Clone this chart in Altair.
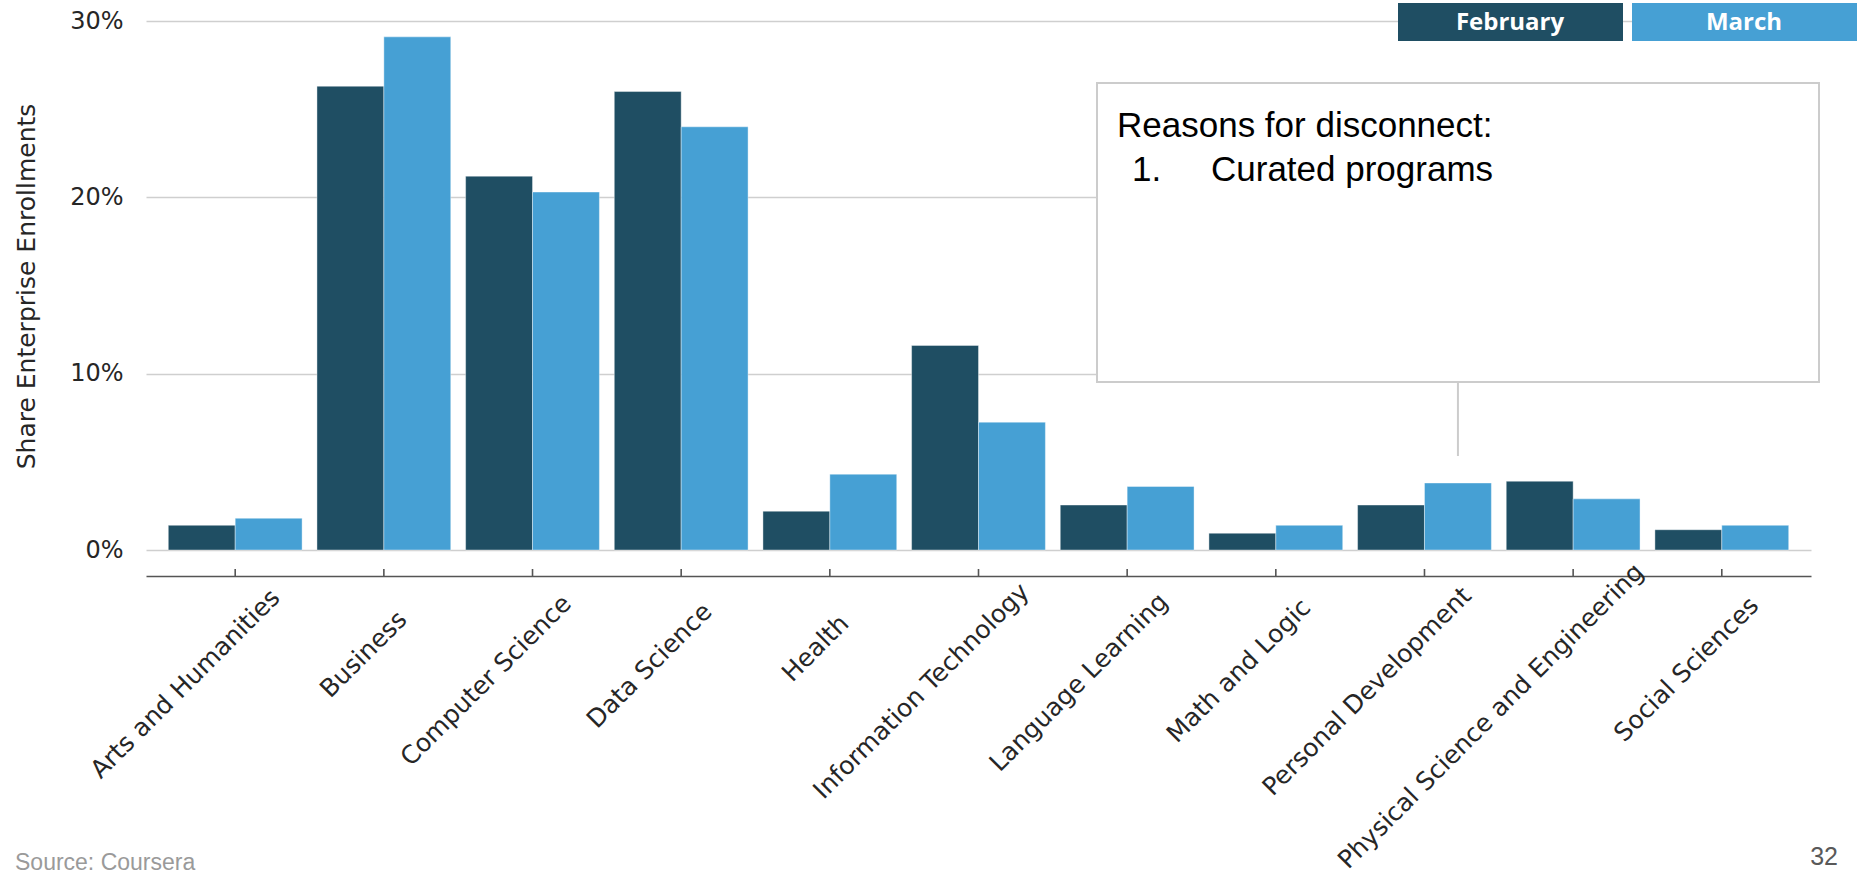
import altair as alt
import pandas as pd

# Share of enterprise enrollments by domain, February vs March (percent)
categories = [
    "Arts and Humanities",
    "Business",
    "Computer Science",
    "Data Science",
    "Health",
    "Information Technology",
    "Language Learning",
    "Math and Logic",
    "Personal Development",
    "Physical Science and Engineering",
    "Social Sciences",
]
february = [1.4, 26.3, 21.2, 26.0, 2.2, 11.6, 2.55, 0.95, 2.55, 3.9, 1.15]
march = [1.8, 29.1, 20.3, 24.0, 4.3, 7.25, 3.6, 1.4, 3.8, 2.9, 1.4]
months = ["February", "March"]
month_colors = ["#1f4e63", "#46a0d4"]

note_title = "Reasons for disconnect:"
note_item_num = "1."
note_item = "Curated programs"
source_text = "Source: Coursera"
page_number = "32"

rows = []
for cat, f, m in zip(categories, february, march):
    rows.append({"cat": cat, "month": months[0], "share": f / 100})
    rows.append({"cat": cat, "month": months[1], "share": m / 100})
bars_df = pd.DataFrame(rows)
cats_df = pd.DataFrame({"cat": categories})

W, H = 1665, 529

x_enc = alt.X(
    "cat:N",
    sort=categories,
    scale=alt.Scale(paddingInner=0.1, paddingOuter=0.15),
    axis=alt.Axis(
        title=None,
        labels=False,
        ticks=False,
        domain=True,
        domainColor="#555555",
        domainWidth=1.6,
        offset=26,
        grid=False,
    ),
)

bars = alt.Chart(bars_df).mark_bar(stroke="white", strokeWidth=0.4).encode(
    x=x_enc,
    xOffset=alt.XOffset("month:N", sort=months),
    y=alt.Y(
        "share:Q",
        scale=alt.Scale(domain=[0, 0.3], nice=False),
        axis=alt.Axis(
            format=".0%",
            values=[0, 0.1, 0.2, 0.3],
            grid=True,
            gridColor="#cfcfcf",
            gridWidth=1.6,
            ticks=False,
            domain=False,
            labelFont="DejaVu Sans",
            labelFontSize=24,
            labelColor="#262626",
            labelPadding=23,
            title="Share Enterprise Enrollments",
            titleFont="DejaVu Sans",
            titleFontSize=25,
            titleFontWeight="normal",
            titleColor="#262626",
            titleAngle=270,
            titleAlign="center",
            titleBaseline="middle",
            titleX=-120,
            titleY=265,
        ),
    ),
    color=alt.Color(
        "month:N",
        scale=alt.Scale(domain=months, range=month_colors),
        legend=None,
    ),
)

# small inward tick marks on the category axis
ticks = alt.Chart(cats_df).mark_rule(color="#555555", strokeWidth=1.6).encode(
    x=alt.X("cat:N", sort=categories),
    y=alt.value(548),
    y2=alt.value(555),
)

# rotated category labels
labels = alt.Chart(cats_df).mark_text(
    angle=315,
    align="right",
    baseline="top",
    font="DejaVu Sans",
    fontSize=25,
    color="#262626",
    dx=alt.expr("4 + 2.8 * length(datum.cat)"),
    dy=-12,
).encode(
    x=alt.X("cat:N", sort=categories),
    y=alt.value(613),
    text="cat:N",
)

# annotation box with a pointer to Personal Development (March)
note_box = alt.Chart(pd.DataFrame({"k": [0]})).mark_rect(
    fill="white", stroke="#cccccc", strokeWidth=2
).encode(
    x=alt.value(951), x2=alt.value(1673), y=alt.value(62), y2=alt.value(361)
)

pointer = alt.Chart(
    pd.DataFrame({"cat": ["Personal Development"], "month": ["March"]})
).mark_rule(color="#cccccc", strokeWidth=2).encode(
    x=alt.X("cat:N", sort=categories),
    xOffset=alt.XOffset("month:N", sort=months),
    y=alt.value(361),
    y2=alt.value(435),
)

note_font = dict(font="Liberation Sans", fontSize=35, color="#000000", baseline="alphabetic", align="left")
note1 = alt.Chart(pd.DataFrame({"t": [note_title]})).mark_text(**note_font).encode(
    x=alt.value(971), y=alt.value(116), text="t:N"
)
note2 = alt.Chart(pd.DataFrame({"t": [note_item_num]})).mark_text(**note_font).encode(
    x=alt.value(986), y=alt.value(160), text="t:N"
)
note3 = alt.Chart(pd.DataFrame({"t": [note_item]})).mark_text(**note_font).encode(
    x=alt.value(1065), y=alt.value(160), text="t:N"
)

# legend boxes at the top right
legend_layers = []
for i, (name, col) in enumerate(zip(months, month_colors)):
    x0 = 1252 + i * 234
    legend_layers.append(
        alt.Chart(pd.DataFrame({"k": [0]})).mark_rect(fill=col).encode(
            x=alt.value(x0), x2=alt.value(x0 + 225), y=alt.value(-18), y2=alt.value(20)
        )
    )
    legend_layers.append(
        alt.Chart(pd.DataFrame({"t": [name]})).mark_text(
            font="Open Sans", fontWeight="bold", fontSize=24, color="white",
            align="center", baseline="middle",
        ).encode(x=alt.value(x0 + 112), y=alt.value(2), text="t:N")
    )

source = alt.Chart(pd.DataFrame({"t": [source_text]})).mark_text(
    font="Liberation Sans", fontSize=23, color="#9a9a9a", align="left", baseline="alphabetic"
).encode(x=alt.value(-131), y=alt.value(849), text="t:N")

page = alt.Chart(pd.DataFrame({"t": [page_number]})).mark_text(
    font="Liberation Sans", fontSize=25, color="#595959", align="right", baseline="alphabetic"
).encode(x=alt.value(1692), y=alt.value(844), text="t:N")

chart = alt.layer(
    bars, ticks, labels, note_box, pointer, note1, note2, note3, *legend_layers, source, page
).properties(
    width=W,
    height=H,
    autosize=alt.AutoSizeParams(type="none"),
    padding={"left": 146, "top": 21, "right": 47, "bottom": 333},
    background="white",
).configure_view(stroke=None)

chart.save("out.html", embed_options={"renderer": "svg", "actions": False})
